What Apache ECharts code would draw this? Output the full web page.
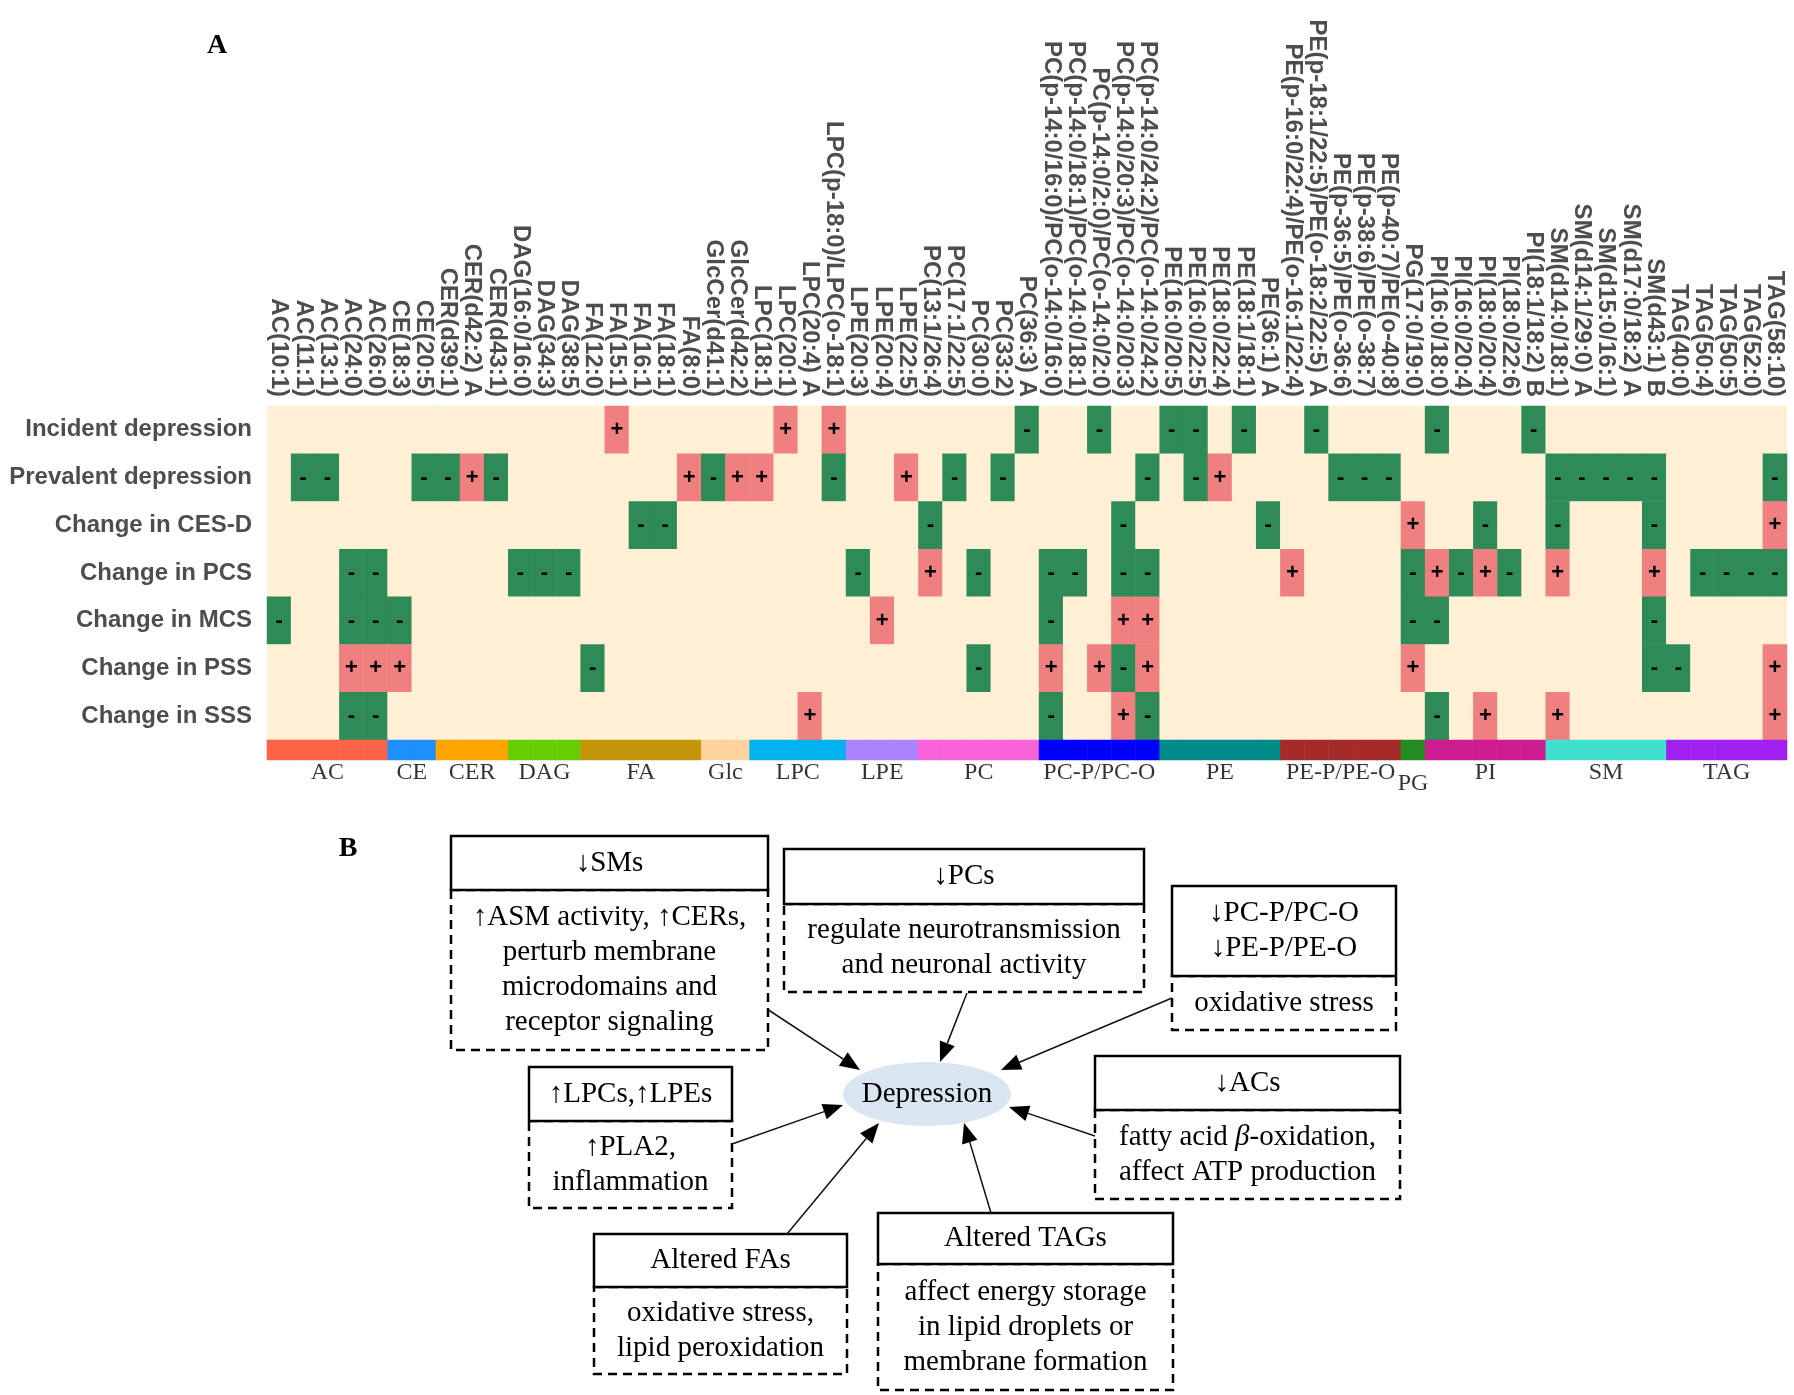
<!DOCTYPE html>
<html>
<head>
<meta charset="utf-8">
<title>Lipid species and depression</title>
<script src="https://cdn.jsdelivr.net/npm/echarts@6/dist/echarts.min.js"></script>
<style>
  html, body { margin: 0; padding: 0; background: #fff; }
  #main { width: 1794px; height: 1395px; }
</style>
</head>
<body>
<div id="main"></div>
<script>
// lipid species (columns), left to right
const colNames = [
  'AC(10:1)', 'AC(11:1)', 'AC(13:1)', 'AC(24:0)', 'AC(26:0)',
  'CE(18:3)', 'CE(20:5)',
  'CER(d39:1)', 'CER(d42:2) A', 'CER(d43:1)',
  'DAG(16:0/16:0)', 'DAG(34:3)', 'DAG(38:5)',
  'FA(12:0)', 'FA(15:1)', 'FA(16:1)', 'FA(18:1)', 'FA(8:0)',
  'GlcCer(d41:1)', 'GlcCer(d42:2)',
  'LPC(18:1)', 'LPC(20:1)', 'LPC(20:4) A', 'LPC(p-18:0)/LPC(o-18:1)',
  'LPE(20:3)', 'LPE(20:4)', 'LPE(22:5)',
  'PC(13:1/26:4)', 'PC(17:1/22:5)', 'PC(30:0)', 'PC(33:2)', 'PC(36:3) A',
  'PC(p-14:0/16:0)/PC(o-14:0/16:0)', 'PC(p-14:0/18:1)/PC(o-14:0/18:1)', 'PC(p-14:0/2:0)/PC(o-14:0/2:0)',
  'PC(p-14:0/20:3)/PC(o-14:0/20:3)', 'PC(p-14:0/24:2)/PC(o-14:0/24:2)',
  'PE(16:0/20:5)', 'PE(16:0/22:5)', 'PE(18:0/22:4)', 'PE(18:1/18:1)', 'PE(36:1) A',
  'PE(p-16:0/22:4)/PE(o-16:1/22:4)', 'PE(p-18:1/22:5)/PE(o-18:2/22:5) A',
  'PE(p-36:5)/PE(o-36:6)', 'PE(p-38:6)/PE(o-38:7)', 'PE(p-40:7)/PE(o-40:8)',
  'PG(17:0/19:0)',
  'PI(16:0/18:0)', 'PI(16:0/20:4)', 'PI(18:0/20:4)', 'PI(18:0/22:6)', 'PI(18:1/18:2) B',
  'SM(d14:0/18:1)', 'SM(d14:1/29:0) A', 'SM(d15:0/16:1)', 'SM(d17:0/18:2) A', 'SM(d43:1) B',
  'TAG(40:0)', 'TAG(50:4)', 'TAG(50:5)', 'TAG(52:0)', 'TAG(58:10)'
];

const rowNames = ['Incident depression', 'Prevalent depression', 'Change in CES-D',
  'Change in PCS', 'Change in MCS', 'Change in PSS', 'Change in SSS'];

// 1 = positive (+), -1 = negative (-), 0 = not significant
// groups: AC | CE | CER | DAG | FA | Glc | LPC | LPE | PC | PC-P | PE | PE-P | PG | PI | SM | TAG
const incident = [0,0,0,0,0, 0,0, 0,0,0, 0,0,0, 0,1,0,0,0, 0,0, 0,1,0,1, 0,0,0, 0,0,0,0,-1,
  0,0,-1,0,0, -1,-1,0,-1,0, 0,-1,0,0,0, 0, -1,0,0,0,-1, 0,0,0,0,0, 0,0,0,0,0];
const prevalent = [0,-1,-1,0,0, 0,-1, -1,1,-1, 0,0,0, 0,0,0,0,1, -1,1, 1,0,0,-1, 0,0,1, 0,-1,0,-1,0,
  0,0,0,0,-1, 0,-1,1,0,0, 0,0,-1,-1,-1, 0, 0,0,0,0,0, -1,-1,-1,-1,-1, 0,0,0,0,-1];
const cesd = [0,0,0,0,0, 0,0, 0,0,0, 0,0,0, 0,0,-1,-1,0, 0,0, 0,0,0,0, 0,0,0, -1,0,0,0,0,
  0,0,0,-1,0, 0,0,0,0,-1, 0,0,0,0,0, 1, 0,0,-1,0,0, -1,0,0,0,-1, 0,0,0,0,1];
const pcs = [0,0,0,-1,-1, 0,0, 0,0,0, -1,-1,-1, 0,0,0,0,0, 0,0, 0,0,0,0, -1,0,0, 1,0,-1,0,0,
  -1,-1,0,-1,-1, 0,0,0,0,0, 1,0,0,0,0, -1, 1,-1,1,-1,0, 1,0,0,0,1, 0,-1,-1,-1,-1];
const mcs = [-1,0,0,-1,-1, -1,0, 0,0,0, 0,0,0, 0,0,0,0,0, 0,0, 0,0,0,0, 0,1,0, 0,0,0,0,0,
  -1,0,0,1,1, 0,0,0,0,0, 0,0,0,0,0, -1, -1,0,0,0,0, 0,0,0,0,-1, 0,0,0,0,0];
const pss = [0,0,0,1,1, 1,0, 0,0,0, 0,0,0, -1,0,0,0,0, 0,0, 0,0,0,0, 0,0,0, 0,0,-1,0,0,
  1,0,1,-1,1, 0,0,0,0,0, 0,0,0,0,0, 1, 0,0,0,0,0, 0,0,0,0,-1, -1,0,0,0,1];
const sss = [0,0,0,-1,-1, 0,0, 0,0,0, 0,0,0, 0,0,0,0,0, 0,0, 0,0,1,0, 0,0,0, 0,0,0,0,0,
  -1,0,0,1,-1, 0,0,0,0,0, 0,0,0,0,0, 0, -1,0,1,0,0, 1,0,0,0,0, 0,0,0,0,1];

const rows = [incident, prevalent, cesd, pcs, mcs, pss, sss];

// lipid classes and how many species each holds
const classNames = ['AC', 'CE', 'CER', 'DAG', 'FA', 'Glc', 'LPC', 'LPE', 'PC', 'PC-P/PC-O',
  'PE', 'PE-P/PE-O', 'PG', 'PI', 'SM', 'TAG'];
const classCounts = [5, 2, 3, 3, 5, 2, 4, 3, 5, 5, 5, 5, 1, 5, 5, 5];
const classColors = ['#FF6347', '#1E90FF', '#FFA500', '#66CD00', '#C4960C', '#FFD39B', '#00B2EE',
  '#AB82FF', '#F962D9', '#0000FF', '#008B8B', '#A52A2A', '#228B22', '#CD1C8F', '#40E0D0', '#A020F0'];

// build series data
let cellData = [];
rows.forEach((r, y) => {
  r.forEach((v, x) => { cellData.push([x, y, v]); });
});

let classData = [];
let classCenters = [];
let start = 0;
classCounts.forEach((n, k) => {
  for (let i = 0; i < n; i++) classData.push([start + i, 0, k]);
  classCenters.push(start + n / 2);
  start += n;
});

// panel B boxes
const boxes = [
  {x: 451, w: 317, y: 836, h1: 54, h2: 160, title: ['↓SMs'],
    desc: ['↑ASM activity, ↑CERs,', 'perturb membrane', 'microdomains and', 'receptor signaling']},
  {x: 784, w: 360, y: 849, h1: 55, h2: 88, title: ['↓PCs'],
    desc: ['regulate neurotransmission', 'and neuronal activity']},
  {x: 1172, w: 224, y: 886, h1: 90, h2: 54, title: ['↓PC-P/PC-O', '↓PE-P/PE-O'],
    desc: ['oxidative stress']},
  {x: 1095, w: 305, y: 1056, h1: 54, h2: 89, title: ['↓ACs'],
    desc: ['fatty acid {i|β}-oxidation,', 'affect ATP production']},
  {x: 529, w: 203, y: 1067, h1: 54, h2: 87, title: ['↑LPCs,↑LPEs'],
    desc: ['↑PLA2,', 'inflammation']},
  {x: 594, w: 253, y: 1234, h1: 53, h2: 87, title: ['Altered FAs'],
    desc: ['oxidative stress,', 'lipid peroxidation']},
  {x: 878, w: 295, y: 1213, h1: 51, h2: 126, title: ['Altered TAGs'],
    desc: ['affect energy storage', 'in lipid droplets or', 'membrane formation']}
];

const arrows = [
  [767, 1009, 860, 1070],
  [967, 993, 940, 1062],
  [1172, 998, 1001, 1070],
  [1095, 1136, 1009, 1107],
  [732, 1144, 843, 1105],
  [787, 1234, 879, 1123],
  [991, 1213, 964, 1123]
];

const serif = '"Liberation Serif", "Times New Roman", serif';
const sans = '"Liberation Sans", Arial, sans-serif';

function boxElems(b) {
  const txt = {fill: '#000', fontSize: 29, fontFamily: serif, align: 'center', verticalAlign: 'middle', lineHeight: 35};
  return [
    {type: 'rect', shape: {x: b.x, y: b.y + b.h1, width: b.w, height: b.h2},
      style: {fill: '#fff', stroke: '#000', lineWidth: 2.5, lineDash: [9, 6]}},
    {type: 'rect', shape: {x: b.x, y: b.y, width: b.w, height: b.h1},
      style: {fill: '#fff', stroke: '#000', lineWidth: 2.5}},
    {type: 'text', x: b.x + b.w / 2, y: b.y + b.h1 / 2,
      style: Object.assign({text: b.title.join('\n')}, txt)},
    {type: 'text', x: b.x + b.w / 2, y: b.y + b.h1 + b.h2 / 2,
      style: Object.assign({text: b.desc.join('\n'),
        rich: {i: {fontStyle: 'italic', fontSize: 29, fontFamily: serif, lineHeight: 35}}}, txt)}
  ];
}

function arrowElems(a) {
  const [x1, y1, x2, y2] = a;
  const len = Math.hypot(x2 - x1, y2 - y1);
  const ux = (x2 - x1) / len, uy = (y2 - y1) / len;
  const L = 20, W = 8;
  const bx = x2 - ux * L, by = y2 - uy * L;
  return [
    {type: 'line', shape: {x1: x1, y1: y1, x2: bx, y2: by}, style: {stroke: '#111', lineWidth: 1.5}},
    {type: 'polygon', shape: {points: [[x2, y2], [bx - uy * W, by + ux * W], [bx + uy * W, by - ux * W]]},
      style: {fill: '#000'}}
  ];
}

let graphics = [
  {type: 'text', x: 217, y: 46, style: {text: 'A', fontSize: 28, fontWeight: 'bold', fontFamily: serif,
    fill: '#000', align: 'center', verticalAlign: 'middle'}},
  {type: 'text', x: 348, y: 849, style: {text: 'B', fontSize: 28, fontWeight: 'bold', fontFamily: serif,
    fill: '#000', align: 'center', verticalAlign: 'middle'}},
  {type: 'ellipse', shape: {cx: 927, cy: 1094, rx: 84, ry: 32}, style: {fill: '#DAE5F2'}},
  {type: 'text', x: 927, y: 1094, style: {text: 'Depression', fontSize: 29, fontFamily: serif,
    fill: '#000', align: 'center', verticalAlign: 'middle'}}
];
boxes.forEach(b => { graphics = graphics.concat(boxElems(b)); });
arrows.forEach(a => { graphics = graphics.concat(arrowElems(a)); });

const myChart = echarts.init(document.getElementById('main'));

const option = {
  backgroundColor: '#fff',
  animation: false,
  grid: [
    {left: 267, top: 406, width: 1520, height: 334, outerBoundsMode: 'none'},
    {left: 267, top: 740, width: 1520, height: 20, outerBoundsMode: 'none'},
    {left: 267, top: 763, width: 1520, height: 20, outerBoundsMode: 'none'}
  ],
  xAxis: [
    {
      type: 'category', gridIndex: 0, data: colNames, position: 'top',
      axisLine: {show: false}, axisTick: {show: false}, splitLine: {show: false},
      axisLabel: {rotate: 90, interval: 0, margin: 9, fontSize: 24, fontWeight: 'bold',
        color: '#4d4d4d', fontFamily: sans, overflow: 'none', width: 600, hideOverlap: false}
    },
    {type: 'category', gridIndex: 1, data: colNames, show: false},
    {type: 'value', gridIndex: 2, min: 0, max: colNames.length, show: false}
  ],
  yAxis: [
    {
      type: 'category', gridIndex: 0, data: rowNames, inverse: true,
      axisLine: {show: false}, axisTick: {show: false}, splitLine: {show: false},
      axisLabel: {margin: 15, fontSize: 24, fontWeight: 'bold', color: '#4d4d4d', fontFamily: sans,
        overflow: 'none'}
    },
    {type: 'category', gridIndex: 1, data: ['class'], show: false},
    {type: 'value', gridIndex: 2, min: 0, max: 1, show: false}
  ],
  visualMap: [
    {
      type: 'piecewise', show: false, seriesIndex: 0, dimension: 2,
      pieces: [
        {value: -1, color: '#2E8B57'},
        {value: 0, color: '#FFEFD5'},
        {value: 1, color: '#F08080'}
      ]
    },
    {
      type: 'piecewise', show: false, seriesIndex: 1, dimension: 2,
      pieces: classColors.map((c, i) => ({value: i, color: c}))
    }
  ],
  series: [
    {
      type: 'heatmap', xAxisIndex: 0, yAxisIndex: 0, data: cellData, silent: true,
      itemStyle: {borderWidth: 0},
      label: {
        show: true, color: '#000', fontSize: 22, fontWeight: 'bold', fontFamily: sans,
        formatter: p => p.value[2] === 1 ? '+' : (p.value[2] === -1 ? '-' : '')
      },
      emphasis: {disabled: true}
    },
    {
      type: 'heatmap', xAxisIndex: 1, yAxisIndex: 1, data: classData, silent: true,
      itemStyle: {borderWidth: 0}, emphasis: {disabled: true}
    },
    {
      type: 'scatter', xAxisIndex: 2, yAxisIndex: 2, silent: true, symbolSize: 1,
      itemStyle: {color: 'rgba(0,0,0,0)'},
      data: classNames.map((n, i) => ({
        name: n, value: [classCenters[i], 0.5],
        label: n === 'PG' ? {offset: [0, 11]} : undefined
      })),
      label: {show: true, position: 'inside', formatter: '{b}', color: '#000', fontSize: 24,
        fontFamily: serif}
    }
  ],
  graphic: graphics
};

option && myChart.setOption(option);
</script>
</body>
</html>
